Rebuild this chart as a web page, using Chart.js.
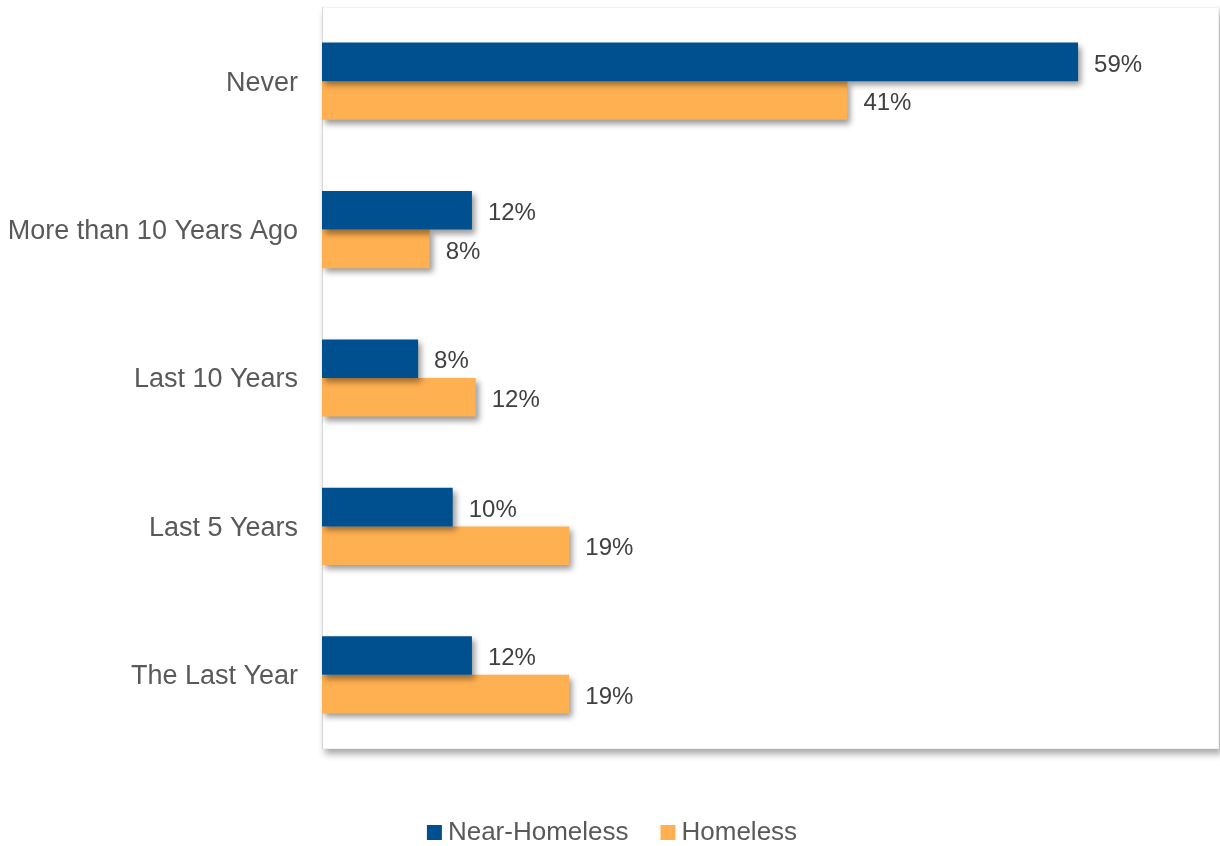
<!DOCTYPE html>
<html>
<head>
<meta charset="utf-8">
<script src="https://cdn.jsdelivr.net/npm/chart.js@4"></script>
<style>
  html, body { margin: 0; padding: 0; background: #fff; }
  #wrap { width: 1220px; height: 846px; }
</style>
</head>
<body>
<div id="wrap"><canvas id="chart"></canvas></div>
<script>
const categories = ['Never', 'More than 10 Years Ago', 'Last 10 Years', 'Last 5 Years', 'The Last Year'];
const nearHomeless = [59, 11.7, 7.5, 10.2, 11.7];
const homeless = [41, 8.4, 12.0, 19.3, 19.3];

const FONT = '"Liberation Sans", Arial, sans-serif';

// plot area box with a soft shadow, bar shadows, value labels and the legend
const decorations = {
  id: 'decorations',
  beforeDatasetsDraw(chart) {
    const { ctx, chartArea: a } = chart;
    ctx.save();
    ctx.shadowColor = 'rgba(0,0,0,0.35)';
    ctx.shadowBlur = 7;
    ctx.shadowOffsetX = 3;
    ctx.shadowOffsetY = 5;
    ctx.fillStyle = '#fff';
    ctx.fillRect(a.left, a.top, a.right - a.left, a.bottom - a.top);
    ctx.restore();
    ctx.save();
    ctx.strokeStyle = '#f2f2f2';
    ctx.lineWidth = 1;
    ctx.strokeRect(a.left + 0.5, a.top + 0.5, a.right - a.left - 1, a.bottom - a.top - 1);
    ctx.strokeStyle = '#d9d9d9';
    ctx.beginPath();
    ctx.moveTo(a.left + 0.5, a.top);
    ctx.lineTo(a.left + 0.5, a.bottom);
    ctx.stroke();
    ctx.restore();
    // shadow for the bars
    ctx.save();
    ctx.shadowColor = 'rgba(0,0,0,0.4)';
    ctx.shadowBlur = 6;
    ctx.shadowOffsetX = 3;
    ctx.shadowOffsetY = 4;
  },
  afterDatasetsDraw(chart) {
    const ctx = chart.ctx;
    ctx.restore();
    ctx.save();
    ctx.font = '24px ' + FONT;
    ctx.fillStyle = '#404040';
    ctx.textBaseline = 'middle';
    ctx.textAlign = 'left';
    chart.data.datasets.forEach((ds, i) => {
      chart.getDatasetMeta(i).data.forEach((bar, j) => {
        ctx.fillText(Math.round(ds.data[j]) + '%', bar.x + 16, bar.y + 3);
      });
    });
    ctx.restore();
  },
  afterDraw(chart) {
    const ctx = chart.ctx;
    ctx.save();
    ctx.font = '26px ' + FONT;
    ctx.textBaseline = 'middle';
    ctx.textAlign = 'left';
    const items = chart.data.datasets.map(ds => ({ label: ds.label, color: ds.backgroundColor, w: ctx.measureText(ds.label).width }));
    const box = 15, gap = 6, between = 32;
    let total = items.reduce((s, it) => s + box + gap + it.w, 0) + between * (items.length - 1);
    let x = 612 - total / 2;
    const y = 833;
    items.forEach(it => {
      ctx.fillStyle = it.color;
      ctx.fillRect(x, y - 8, box, box);
      ctx.fillStyle = '#595959';
      ctx.fillText(it.label, x + box + gap, y);
      x += box + gap + it.w + between;
    });
    ctx.restore();
  }
};

new Chart(document.getElementById('chart'), {
  type: 'bar',
  data: {
    labels: categories,
    datasets: [
      { label: 'Near-Homeless', data: nearHomeless, backgroundColor: '#00508f', categoryPercentage: 0.52, barPercentage: 1 },
      { label: 'Homeless', data: homeless, backgroundColor: '#ffb050', categoryPercentage: 0.52, barPercentage: 1 }
    ]
  },
  options: {
    indexAxis: 'y',
    responsive: true,
    maintainAspectRatio: false,
    animation: false,
    layout: { padding: { left: 10, right: 1, top: 7, bottom: 97 } },
    scales: {
      x: {
        min: 0, max: 70,
        display: false,
        grid: { display: false }
      },
      y: {
        grid: { display: false, drawTicks: false },
        border: { display: false },
        afterFit(scale) {
          scale.width = 312;
          scale.paddingTop = 0;
          scale.paddingBottom = 0;
        },
        ticks: {
          padding: 24,
          labelOffset: 2,
          color: '#595959',
          font: { family: FONT, size: 27 }
        }
      }
    },
    plugins: {
      tooltip: { enabled: false },
      legend: { display: false }
    }
  },
  plugins: [decorations]
});
</script>
</body>
</html>
